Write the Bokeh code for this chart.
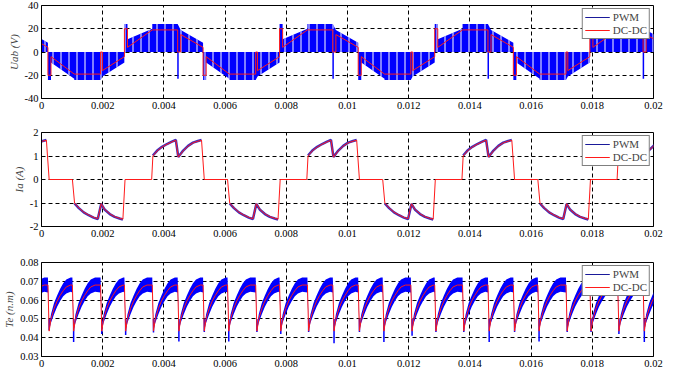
from bokeh.plotting import figure
from bokeh.layouts import column
from bokeh.models import FixedTicker, Range1d, Label, Legend, LegendItem
from bokeh.embed import file_html
from bokeh.resources import INLINE

# ---------------- axes ----------------
X_TICKS = [0.0, 0.002, 0.004, 0.006, 0.008, 0.01, 0.012, 0.014, 0.016, 0.018, 0.02]
X_TICK_LABELS = ["0", "0.002", "0.004", "0.006", "0.008", "0.01", "0.012", "0.014", "0.016", "0.018", "0.02"]
UAB_TICKS = [-40, -20, 0, 20, 40]
UAB_TICK_LABELS = ["-40", "-20", "0", "20", "40"]
IA_TICKS = [-2, -1, 0, 1, 2]
IA_TICK_LABELS = ["-2", "-1", "0", "1", "2"]
TE_TICKS = [0.03, 0.04, 0.05, 0.06, 0.07, 0.08]
TE_TICK_LABELS = ["0.03", "0.04", "0.05", "0.06", "0.07", "0.08"]

# ---------------- Uab ----------------
# start of each electrical cycle (positive commutation pulse), s
CYCLE_START = [-0.00236, 0.00271, 0.00778, 0.01285, 0.01792]
# DC-DC Uab within one cycle: offset from cycle start (s), value (V)
UAB_DCDC_DT = [0, 0, 0.0001, 0.0001, 0.00091, 0.00174, 0.00174, 0.00184, 0.00184,
               0.00257, 0.00257, 0.00267, 0.00267, 0.00343, 0.00429, 0.00429, 0.00435, 0.00435]
UAB_DCDC_V = [-4, 20, 20, 4, 19, 19, 0, 0, 15,
              4, -20, -20, -4, -19, -19, 0, 0, -16]
# PWM Uab switching band within one cycle: offset, lower edge, upper edge (V)
UAB_PWM_DT = [0, 0.0001, 0.0001, 0.00091, 0.00091, 0.00174, 0.00184, 0.00257, 0.00257,
              0.00267, 0.00267, 0.00343, 0.00343, 0.00429, 0.00435, 0.00507]
UAB_PWM_LO = [0, 0, 0, 0, 0, 0, 0, 0, -24, -24, -9, -23, -24, -24, -21, -9]
UAB_PWM_HI = [24, 24, 11, 20, 24, 24, 19, 8, 0, 0, 0, 0, 0, 0, 0, 0]
# PWM Uab isolated spikes
UAB_SPIKE_T = [0.00446, 0.00953, 0.0146, 0.01967]
UAB_SPIKE_FROM = [20, 20, 20, 20]
UAB_SPIKE_TO = [-23, -23, -23, -23]

# ---------------- Ia ----------------
IA_DCDC_DT = [0.00089, 0.00093, 0.00107, 0.00123, 0.00139, 0.00155, 0.00168, 0.00176, 0.00192,
              0.00208, 0.00224, 0.0024, 0.00252, 0.00261, 0.00337, 0.00344, 0.00358, 0.00374,
              0.0039, 0.00406, 0.0042, 0.00431, 0.00443, 0.00459, 0.00475, 0.00491, 0.00502, 0.00509]
IA_DCDC_V = [0, 1.0, 1.22, 1.38, 1.5, 1.6, 1.67, 0.95, 1.22,
             1.42, 1.56, 1.63, 1.67, 0, 0, -1.0, -1.21, -1.39,
             -1.51, -1.61, -1.67, -1.03, -1.28, -1.46, -1.58, -1.65, -1.69, 0]
IA_PWM_POS_DT = [0.00093, 0.00107, 0.00123, 0.00139, 0.00155, 0.00168, 0.00176, 0.00192, 0.00208, 0.00224, 0.0024, 0.00252]
IA_PWM_POS_V = [1.02, 1.23, 1.39, 1.51, 1.61, 1.68, 0.96, 1.23, 1.43, 1.57, 1.64, 1.68]
IA_PWM_NEG_DT = [0.00344, 0.00358, 0.00374, 0.0039, 0.00406, 0.0042, 0.00431, 0.00443, 0.00459, 0.00475, 0.00491, 0.00502]
IA_PWM_NEG_V = [-1.02, -1.22, -1.4, -1.52, -1.62, -1.68, -1.04, -1.29, -1.47, -1.59, -1.66, -1.7]

# ---------------- Te ----------------
TE_EVENT_T = [-0.00065, 0.00021, 0.00101, 0.00193, 0.00271, 0.00362, 0.00445, 0.00528, 0.00608,
              0.007, 0.00778, 0.00869, 0.00952, 0.01035, 0.01115, 0.01207, 0.01285, 0.01376,
              0.01459, 0.01542, 0.01622, 0.01714, 0.01792, 0.01883, 0.01966]
TE_PWM_MIN = [0.042, 0.044, 0.0377, 0.042, 0.0415, 0.0427, 0.038, 0.043, 0.038,
              0.043, 0.042, 0.043, 0.037, 0.043, 0.0377, 0.041, 0.043, 0.043,
              0.0377, 0.043, 0.038, 0.043, 0.043, 0.042, 0.0377]
TE_DCDC_DT = [0, 0.00004, 0.0001, 0.0002, 0.0003, 0.0004, 0.0005, 0.0006, 0.00074]
TE_DCDC_V = [0.068, 0.0435, 0.05, 0.0555, 0.0595, 0.0625, 0.065, 0.067, 0.068]
TE_PWM_DT = [0, 0.00004, 0.0001, 0.0002, 0.0003, 0.0004, 0.0005, 0.0006, 0.00074]
TE_PWM_LO = [0.064, 0.044, 0.048, 0.0525, 0.0565, 0.0595, 0.062, 0.0635, 0.0645]
TE_PWM_HI = [0.072, 0.046, 0.0525, 0.0585, 0.0625, 0.066, 0.069, 0.071, 0.072]

BLUE = "#0000ff"
IA_BLUE = "#3a2cc0"
KEY_BLUE = "#1a1a9a"
RED = "#ff1a1a"
SERIF = "Liberation Serif"


def tile(starts, dts, *cols):
    xs = []
    outs = [[] for _ in cols]
    for s in starts:
        for i, d in enumerate(dts):
            xs.append(s + d)
            for o, c in zip(outs, cols):
                o.append(c[i])
    return [xs] + outs


def make_fig(height, top, bottom, yr, yticks, ylabels, ylabel):
    p = figure(width=670, height=height, x_range=Range1d(0, 0.02), y_range=Range1d(*yr),
               output_backend="svg", toolbar_location=None,
               min_border_left=36, min_border_right=17, min_border_top=top, min_border_bottom=bottom)
    p.background_fill_color = "white"
    p.border_fill_color = "white"
    p.outline_line_color = "black"
    p.outline_line_width = 1
    p.xaxis.ticker = FixedTicker(ticks=X_TICKS)
    p.xaxis.major_label_overrides = dict(zip(X_TICKS, X_TICK_LABELS))
    p.yaxis.ticker = FixedTicker(ticks=yticks)
    p.yaxis.major_label_overrides = dict(zip(yticks, ylabels))
    for ax in (p.xaxis, p.yaxis):
        ax.major_tick_in = 0
        ax.major_tick_out = 0
        ax.minor_tick_in = 0
        ax.minor_tick_out = 0
        ax.axis_line_color = "black"
        ax.major_label_text_font = SERIF
        ax.major_label_text_font_size = "10.5px"
        ax.major_label_text_color = "black"
        ax.major_label_standoff = 3
    p.yaxis.axis_label = ylabel
    p.yaxis.axis_label_text_font = SERIF
    p.yaxis.axis_label_text_font_style = "italic"
    p.yaxis.axis_label_text_font_size = "11px"
    p.yaxis.axis_label_standoff = 2
    p.grid.grid_line_color = "black"
    p.grid.grid_line_dash = "4 3"
    p.grid.grid_line_width = 1
    p.add_layout(Label(x=0.02, y=yr[0], x_offset=3, y_offset=3, text="t(s)", text_font=SERIF,
                       text_font_style="italic", text_font_size="11px", text_color="black"))
    return p


def add_legend(p):
    # legend keys: thin line samples (renderers placed outside the visible x range)
    kb = p.line([-1.0, -0.9], [0, 0], line_color=KEY_BLUE, line_width=1)
    kr = p.line([-1.0, -0.9], [0, 0], line_color=RED, line_width=1)
    lg = Legend(items=[LegendItem(label="PWM", renderers=[kb]),
                       LegendItem(label="DC-DC", renderers=[kr])],
                location="top_right", border_line_color="black", border_line_width=1,
                background_fill_color="white", background_fill_alpha=1,
                label_text_font=SERIF, label_text_font_size="11px",
                glyph_width=25, glyph_height=12, label_height=12, label_standoff=3,
                spacing=1, padding=2, margin=3)
    p.add_layout(lg)


# ---- figure 1: Uab ----
p1 = make_fig(126, 5, 28, (-40, 40), UAB_TICKS, UAB_TICK_LABELS, "Uab (V)")
bx, blo, bhi = tile(CYCLE_START, UAB_PWM_DT, UAB_PWM_LO, UAB_PWM_HI)
p1.varea(x=bx, y1=blo, y2=bhi, fill_color=BLUE, hatch_pattern="vertical_line",
         hatch_color="white", hatch_scale=8, hatch_weight=1)
p1.segment(x0=UAB_SPIKE_T, y0=UAB_SPIKE_FROM, x1=UAB_SPIKE_T, y1=UAB_SPIKE_TO,
           line_color=BLUE, line_width=1.5)
rx, rv = tile(CYCLE_START, UAB_DCDC_DT, UAB_DCDC_V)
p1.line(rx, rv, line_color=RED, line_width=1)
add_legend(p1)

# ---- figure 2: Ia ----
p2 = make_fig(124, 6, 24, (-2, 2), IA_TICKS, IA_TICK_LABELS, "Ia (A)")
rx2, rv2 = tile(CYCLE_START, IA_DCDC_DT, IA_DCDC_V)
xs_pwm, ys_pwm = [], []
for s in CYCLE_START:
    xs_pwm.append([s + d for d in IA_PWM_POS_DT]); ys_pwm.append(list(IA_PWM_POS_V))
    xs_pwm.append([s + d for d in IA_PWM_NEG_DT]); ys_pwm.append(list(IA_PWM_NEG_V))
p2.multi_line(xs_pwm, ys_pwm, line_color=IA_BLUE, line_width=2.5)
p2.line(rx2, rv2, line_color=RED, line_width=1)
add_legend(p2)

# ---- figure 3: Te ----
p3 = make_fig(123, 12, 17, (0.03, 0.08), TE_TICKS, TE_TICK_LABELS, "Te (n.m)")
tx, tlo, thi = tile(TE_EVENT_T, TE_PWM_DT, TE_PWM_LO, TE_PWM_HI)
p3.varea(x=tx, y1=tlo, y2=thi, fill_color=BLUE)
spike_t = [t + TE_PWM_DT[1] for t in TE_EVENT_T]
p3.segment(x0=spike_t, y0=[0.05] * len(spike_t), x1=spike_t, y1=TE_PWM_MIN,
           line_color=BLUE, line_width=1.5)
rx3, rv3 = tile(TE_EVENT_T, TE_DCDC_DT, TE_DCDC_V)
p3.line(rx3, rv3, line_color=RED, line_width=1)
add_legend(p3)

layout = column(p1, p2, p3, spacing=0)
open("out.html", "w").write(file_html(layout, INLINE))
